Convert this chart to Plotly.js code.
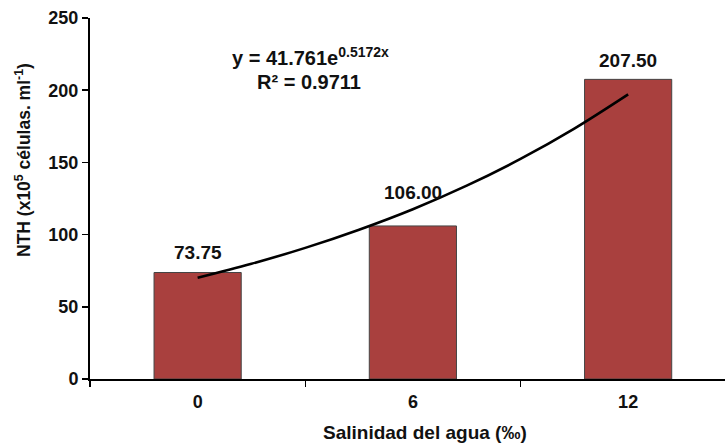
<!DOCTYPE html>
<html>
<head>
<meta charset="utf-8">
<script src="https://cdn.plot.ly/plotly-3.0.1.min.js"></script>
<style>html,body{margin:0;padding:0;background:#fff;}#chart{width:725px;height:443px;}</style>
</head>
<body>
<div id="chart"></div>
<script>
const categories = ['0', '6', '12'];
const nthValues = [73.75, 106.00, 207.50];
const barLabels = ['73.75', '106.00', '207.50'];
const labelShift = [20, 33, 19];
// exponential trend line at category-index positions
const trendX = [0, 0.25, 0.5, 0.75, 1, 1.25, 1.5, 1.75, 2];
const trendY = [70.1, 79.8, 90.8, 103.4, 117.6, 133.9, 152.4, 173.4, 197.1];
const yTicks = [0, 50, 100, 150, 200, 250];

const FONT = 'Liberation Sans, Arial, sans-serif';
const boldFont = (s) => ({family: FONT, size: s, color: '#111', weight: 'bold'});

const traces = [
  {
    type: 'bar', x: categories, y: nthValues, width: 0.405,
    marker: {color: '#A9403E', line: {color: '#444', width: 1}},
    hoverinfo: 'x+y', showlegend: false
  },
  {
    type: 'scatter', mode: 'lines', x: trendX, y: trendY,
    xaxis: 'x2', yaxis: 'y',
    line: {color: '#000', width: 2.6, shape: 'spline'},
    showlegend: false
  }
];

const annotations = categories.map((c, i) => ({
  x: i, y: nthValues[i], xref: 'x2', yref: 'y',
  text: '<b>' + barLabels[i] + '</b>', showarrow: false,
  xanchor: 'center', yanchor: 'middle', yshift: labelShift[i], font: boldFont(19)
}));
// pixel-placed texts
const L = 90, R = 0, T = 18, B = 64, W = 725, H = 443;
const px = (x, y) => ({x: (x - L) / (W - L - R), y: 1 - (y - T) / (H - T - B)});
const place = (x, y, text, size, extra) => Object.assign({
  xref: 'paper', yref: 'paper', text: text, showarrow: false,
  xanchor: 'center', yanchor: 'middle', font: boldFont(size)
}, px(x, y), extra || {});
annotations.push(
  place(310, 56, '<b>y = 41.761e<sup>0.5172x</sup></b>', 20),
  place(309, 82, '<b>R² = 0.9711</b>', 20),
  place(425, 433, '<b>Salinidad del agua (‰)</b>', 19),
  place(23, 160, '<b>NTH (x10<sup>5</sup> células. ml<sup>-1</sup>)</b>', 17.5, {textangle: -90})
);

const layout = {
  width: W, height: H,
  margin: {l: L, r: R, t: T, b: B, pad: 0},
  paper_bgcolor: '#fff', plot_bgcolor: '#fff',
  xaxis: {
    type: 'category', range: [-0.5, 2.45],
    showline: true, linecolor: '#000', linewidth: 2,
    ticks: 'outside', ticklen: 6, tickwidth: 1.5, tickcolor: '#000',
    tickson: 'boundaries', showgrid: false, zeroline: false,
    ticklabelstandoff: 5,
    tickfont: boldFont(18), fixedrange: true
  },
  xaxis2: {overlaying: 'x', range: [-0.5, 2.45], visible: false, fixedrange: true},
  yaxis: {
    range: [0, 250], tickvals: yTicks,
    showline: true, linecolor: '#000', linewidth: 2,
    ticks: 'outside', ticklen: 6, tickwidth: 1.5, tickcolor: '#000',
    showgrid: false, zeroline: false,
    tickfont: boldFont(18), fixedrange: true
  },
  annotations: annotations
};

Plotly.newPlot('chart', traces, layout, {displayModeBar: false, staticPlot: true});
</script>
</body>
</html>
